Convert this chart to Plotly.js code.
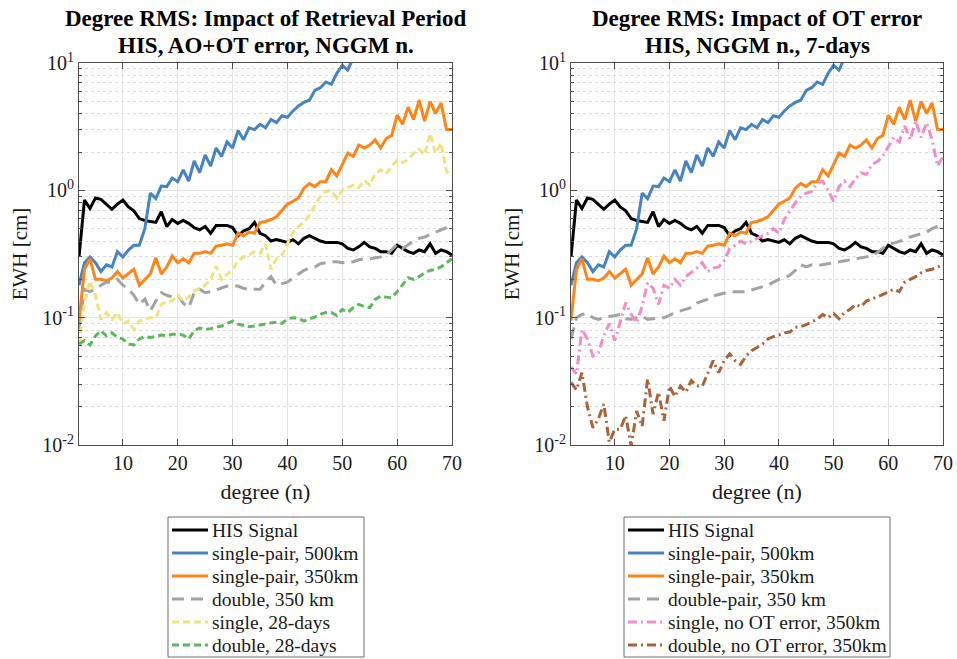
<!DOCTYPE html>
<html>
<head>
<meta charset="utf-8">
<script src="https://cdn.plot.ly/plotly-3.0.1.min.js"></script>
<style>
  html, body { margin: 0; padding: 0; background: #ffffff; }
  #chart { width: 957px; height: 659px; }
</style>
</head>
<body>
<div id="chart"></div>
<script>
// Spherical-harmonic degrees shown on the x axis
const degrees = [2, 3, 4, 5, 6, 7, 8, 9, 10, 11, 12, 13, 14, 15, 16, 17, 18, 19, 20,
  21, 22, 23, 24, 25, 26, 27, 28, 29, 30, 31, 32, 33, 34, 35, 36, 37, 38, 39, 40,
  41, 42, 43, 44, 45, 46, 47, 48, 49, 50, 51, 52, 53, 54, 55, 56, 57, 58, 59, 60,
  61, 62, 63, 64, 65, 66, 67, 68, 69, 70];

// Degree RMS in cm of EWH
const hisSignal = [0.30, 0.84, 0.72, 0.87, 0.85, 0.78, 0.71, 0.78, 0.84, 0.74, 0.69, 0.60, 0.58, 0.57, 0.56, 0.68, 0.52, 0.59, 0.55,
  0.58, 0.55, 0.51, 0.49, 0.52, 0.46, 0.53, 0.53, 0.53, 0.51, 0.44, 0.48, 0.50, 0.56, 0.46, 0.44, 0.40, 0.41, 0.40, 0.39,
  0.41, 0.38, 0.42, 0.44, 0.42, 0.40, 0.39, 0.39, 0.39, 0.38, 0.35, 0.34, 0.36, 0.39, 0.36, 0.35, 0.33, 0.33, 0.32, 0.37,
  0.35, 0.33, 0.32, 0.34, 0.33, 0.38, 0.32, 0.34, 0.33, 0.31];

// single pair at 500 km leaves the plotted range after degree 52
const singlePair500 = [0.18, 0.27, 0.30, 0.27, 0.23, 0.26, 0.25, 0.33, 0.30, 0.34, 0.37, 0.37, 0.50, 0.95, 0.86, 1.08, 1.07, 1.25, 1.17,
  1.45, 1.18, 1.70, 1.38, 1.90, 1.55, 2.15, 1.85, 2.40, 2.15, 2.95, 2.50, 3.10, 3.00, 3.30, 3.10, 3.60, 3.40, 3.85, 3.75,
  4.20, 4.60, 4.90, 5.10, 6.10, 6.40, 7.10, 6.80, 8.30, 9.60, 8.80, 11.0];

const singlePair350 = [0.095, 0.24, 0.29, 0.20, 0.20, 0.195, 0.205, 0.23, 0.205, 0.22, 0.24, 0.18, 0.20, 0.22, 0.295, 0.22, 0.25, 0.305, 0.27,
  0.29, 0.27, 0.32, 0.32, 0.33, 0.32, 0.365, 0.37, 0.38, 0.37, 0.46, 0.44, 0.47, 0.46, 0.56, 0.57, 0.59, 0.62, 0.70, 0.78,
  0.82, 0.87, 1.04, 1.13, 1.07, 1.17, 1.17, 1.45, 1.30, 1.58, 1.96, 1.85, 2.27, 2.15, 2.27, 2.49, 2.15, 2.55, 2.70, 3.90,
  3.30, 4.50, 3.60, 5.10, 3.50, 5.00, 4.00, 4.85, 3.00, 3.00];

// Retrieval period panel
const double350 = [0.081, 0.167, 0.16, 0.167, 0.18, 0.19, 0.19, 0.20, 0.18, 0.167, 0.15, 0.127, 0.14, 0.113, 0.135, 0.157, 0.15, 0.145, 0.15,
  0.13, 0.12, 0.157, 0.167, 0.157, 0.16, 0.165, 0.17, 0.177, 0.177, 0.177, 0.17, 0.167, 0.167, 0.167, 0.19, 0.21, 0.18, 0.185, 0.19,
  0.205, 0.22, 0.235, 0.245, 0.25, 0.265, 0.27, 0.275, 0.275, 0.27, 0.272, 0.275, 0.285, 0.29, 0.29, 0.295, 0.30, 0.31, 0.34, 0.376,
  0.35, 0.376, 0.40, 0.42, 0.43, 0.45, 0.47, 0.49, 0.51, 0.55];

const single28Days = [0.062, 0.13, 0.194, 0.15, 0.097, 0.109, 0.097, 0.11, 0.089, 0.094, 0.081, 0.094, 0.097, 0.10, 0.10, 0.127, 0.135, 0.135, 0.15,
  0.135, 0.145, 0.162, 0.17, 0.18, 0.20, 0.254, 0.20, 0.22, 0.24, 0.28, 0.30, 0.31, 0.33, 0.32, 0.38, 0.24, 0.29, 0.31, 0.38,
  0.47, 0.52, 0.56, 0.64, 0.75, 0.90, 0.98, 1.0, 0.87, 1.0, 1.05, 1.1, 1.05, 1.2, 1.1, 1.35, 1.45, 1.35, 1.55, 1.73,
  1.65, 1.75, 1.95, 2.1, 1.9, 2.8, 1.95, 2.35, 1.4, 1.3];

const double28Days = [0.062, 0.066, 0.061, 0.072, 0.079, 0.072, 0.076, 0.070, 0.068, 0.062, 0.061, 0.068, 0.071, 0.070, 0.071, 0.073, 0.072, 0.074, 0.074,
  0.073, 0.068, 0.079, 0.083, 0.081, 0.082, 0.084, 0.086, 0.090, 0.094, 0.089, 0.087, 0.085, 0.086, 0.088, 0.089, 0.091, 0.092, 0.090, 0.098,
  0.10, 0.099, 0.094, 0.098, 0.101, 0.106, 0.11, 0.11, 0.104, 0.116, 0.11, 0.12, 0.127, 0.122, 0.12, 0.139, 0.148, 0.145, 0.143, 0.16,
  0.18, 0.206, 0.20, 0.21, 0.225, 0.235, 0.24, 0.25, 0.27, 0.29];

// OT error panel
const doublePair350 = [0.068, 0.10, 0.106, 0.108, 0.10, 0.097, 0.10, 0.102, 0.104, 0.106, 0.098, 0.097, 0.10, 0.103, 0.097, 0.098, 0.099, 0.10, 0.104,
  0.11, 0.113, 0.116, 0.12, 0.13, 0.135, 0.14, 0.148, 0.152, 0.157, 0.16, 0.16, 0.16, 0.16, 0.165, 0.17, 0.177, 0.18, 0.19, 0.20,
  0.205, 0.215, 0.235, 0.26, 0.25, 0.26, 0.257, 0.26, 0.265, 0.27, 0.275, 0.28, 0.285, 0.29, 0.295, 0.30, 0.31, 0.325, 0.35, 0.376,
  0.385, 0.395, 0.41, 0.43, 0.445, 0.455, 0.47, 0.50, 0.52, 0.54];

const singleNoOT350 = [0.041, 0.036, 0.081, 0.068, 0.050, 0.053, 0.072, 0.090, 0.066, 0.091, 0.131, 0.106, 0.091, 0.123, 0.188, 0.17, 0.127, 0.18, 0.17,
  0.20, 0.18, 0.21, 0.225, 0.245, 0.27, 0.23, 0.245, 0.25, 0.28, 0.35, 0.37, 0.40, 0.38, 0.40, 0.42, 0.44, 0.46, 0.50, 0.46,
  0.59, 0.68, 0.80, 0.90, 0.95, 0.98, 1.14, 1.18, 1.0, 0.82, 1.07, 1.18, 1.07, 1.24, 1.37, 1.33, 1.60, 1.68, 1.86, 2.2,
  2.6, 2.4, 3.2, 2.5, 3.5, 2.6, 3.4, 2.5, 1.55, 1.85];

const doubleNoOT350 = [0.031, 0.027, 0.037, 0.020, 0.0137, 0.016, 0.021, 0.0105, 0.0133, 0.0133, 0.017, 0.0098, 0.0185, 0.014, 0.033, 0.0175, 0.026, 0.0155, 0.029,
  0.024, 0.029, 0.026, 0.032, 0.029, 0.029, 0.037, 0.046, 0.037, 0.046, 0.052, 0.046, 0.043, 0.050, 0.055, 0.058, 0.062, 0.068, 0.071, 0.073,
  0.076, 0.077, 0.084, 0.085, 0.088, 0.093, 0.097, 0.106, 0.10, 0.108, 0.098, 0.11, 0.116, 0.127, 0.122, 0.135, 0.14, 0.145, 0.152, 0.16,
  0.167, 0.16, 0.19, 0.20, 0.21, 0.225, 0.235, 0.24, 0.25, 0.26];

// Axis tick labels
const xTicks = [10, 20, 30, 40, 50, 60, 70];
const yTicks = [0.01, 0.1, 1, 10];
const yTickText = ['10<sup>-2</sup>', '10<sup>-1</sup>', '10<sup>0</sup>', '10<sup>1</sup>'];

// Panel titles
const leftTitle = ['Degree RMS: Impact of Retrieval Period', 'HIS, AO+OT error, NGGM n.'];
const rightTitle = ['Degree RMS: Impact of OT error', 'HIS, NGGM n., 7-days'];

const SERIF = '"Liberation Serif", "Times New Roman", Times, serif';
const AXIS_COLOR = '#4d4d4d';
const TEXT_COLOR = '#1a1a1a';

const COLORS = {
  black: '#000000',
  blue: '#4584c1',
  orange: '#ff8519',
  gray: '#a3a3a3',
  yellow: '#f2e27c',
  green: '#5cb95a',
  pink: '#f48cc9',
  brown: '#a8633b'
};
const DASH_LONG = '12px,7px';
const DASH_SHORT = '7px,4px';
const DASH_DOT = '9px,4px,2px,4px';

// minor grid positions: 2..9 inside every decade
const minorVals = [];
[0.01, 0.1, 1].forEach(d => { for (let k = 2; k <= 9; k++) minorVals.push(+(k * d).toPrecision(3)); });

function line(name, x, y, color, dash, panel) {
  return {
    type: 'scatter', mode: 'lines', name: name,
    x: x, y: y,
    xaxis: panel === 1 ? 'x' : 'x2', yaxis: panel === 1 ? 'y' : 'y2',
    line: { color: color, width: 3, dash: dash },
    showlegend: false, hoverinfo: 'skip',
    meta: { panel: panel }
  };
}

const degrees500 = degrees.slice(0, singlePair500.length);

const traces = [
  line('HIS Signal', degrees, hisSignal, COLORS.black, 'solid', 1),
  line('single-pair, 500km', degrees500, singlePair500, COLORS.blue, 'solid', 1),
  line('single-pair, 350km', degrees, singlePair350, COLORS.orange, 'solid', 1),
  line('double, 350 km', degrees, double350, COLORS.gray, DASH_LONG, 1),
  line('single, 28-days', degrees, single28Days, COLORS.yellow, DASH_SHORT, 1),
  line('double, 28-days', degrees, double28Days, COLORS.green, DASH_SHORT, 1),

  line('HIS Signal', degrees, hisSignal, COLORS.black, 'solid', 2),
  line('single-pair, 500km', degrees500, singlePair500, COLORS.blue, 'solid', 2),
  line('single-pair, 350km', degrees, singlePair350, COLORS.orange, 'solid', 2),
  line('double-pair, 350 km', degrees, doublePair350, COLORS.gray, DASH_LONG, 2),
  line('single, no OT error, 350km', degrees, singleNoOT350, COLORS.pink, DASH_DOT, 2),
  line('double, no OT error, 350km', degrees, doubleNoOT350, COLORS.brown, DASH_DOT, 2)
];

const W = 957, H = 659;
const px = v => v / W;          // pixel column -> paper x
const py = v => 1 - v / H;      // pixel row -> paper y
const plotTop = 63, plotBottom = 445;
const yDomain = [py(plotBottom), py(plotTop)];
const leftDomain = [px(79), px(452)];
const rightDomain = [px(571), px(943)];

function xAxis(domain, anchor) {
  return {
    domain: domain, anchor: anchor, range: [2, 70],
    tickmode: 'array', tickvals: xTicks,
    ticks: 'inside', ticklen: 6, tickwidth: 1, tickcolor: AXIS_COLOR,
    showline: true, linecolor: AXIS_COLOR, linewidth: 1, mirror: 'ticks',
    showgrid: true, gridcolor: '#e4e4e4', gridwidth: 1, zeroline: false,
    tickfont: { family: SERIF, size: 20, color: TEXT_COLOR },
    title: { text: 'degree (n)', font: { family: SERIF, size: 22, color: TEXT_COLOR }, standoff: 10 },
    automargin: false, fixedrange: true
  };
}

function yAxis(anchor) {
  return {
    domain: yDomain, anchor: anchor, type: 'log', range: [-2, 1],
    tickmode: 'array', tickvals: yTicks, ticktext: yTickText,
    ticks: 'inside', ticklen: 6, tickwidth: 1, tickcolor: AXIS_COLOR,
    showline: true, linecolor: AXIS_COLOR, linewidth: 1, mirror: 'ticks',
    showgrid: true, gridcolor: '#e4e4e4', gridwidth: 1, zeroline: false,
    minor: {
      tickmode: 'array', tickvals: minorVals,
      ticks: 'inside', ticklen: 3, tickcolor: AXIS_COLOR,
      showgrid: true, gridcolor: '#dadada', gridwidth: 1, griddash: 'dot'
    },
    tickfont: { family: SERIF, size: 20, color: TEXT_COLOR },
    title: { text: 'EWH [cm]', font: { family: SERIF, size: 21, color: TEXT_COLOR }, standoff: 8 },
    automargin: false, fixedrange: true
  };
}

const shapes = [];
const annotations = [];

// Panel titles: two bold lines centred over each plot
function addTitle(lines, domain) {
  const xc = (domain[0] + domain[1]) / 2;
  [19, 45].forEach((row, i) => {
    annotations.push({
      xref: 'paper', yref: 'paper', x: xc, y: py(row),
      xanchor: 'center', yanchor: 'middle', showarrow: false,
      text: '<b>' + lines[i] + '</b>',
      font: { family: SERIF, size: 23, color: '#000000' }
    });
  });
}

// Boxed legend below a panel, built from that panel's traces
function addLegend(panel, left, right) {
  const top = 517, bottom = 657, firstRow = 530, rowGap = 23;
  shapes.push({
    type: 'rect', xref: 'paper', yref: 'paper',
    x0: px(left), x1: px(right), y0: py(bottom), y1: py(top),
    line: { color: '#6e6e6e', width: 1 }, fillcolor: '#ffffff', layer: 'above'
  });
  traces.filter(t => t.meta.panel === panel).forEach((t, i) => {
    const yc = firstRow + i * rowGap;
    shapes.push({
      type: 'line', xref: 'paper', yref: 'paper',
      x0: px(left + 4), x1: px(left + 40), y0: py(yc), y1: py(yc),
      line: { color: t.line.color, width: 3, dash: t.line.dash }, layer: 'above'
    });
    annotations.push({
      xref: 'paper', yref: 'paper', x: px(left + 42), y: py(yc),
      xanchor: 'left', yanchor: 'middle', showarrow: false,
      text: t.name,
      font: { family: SERIF, size: 19.5, color: TEXT_COLOR }
    });
  });
}

addTitle(leftTitle, leftDomain);
addTitle(rightTitle, rightDomain);
addLegend(1, 168, 364);
addLegend(2, 624, 890);

const layout = {
  width: W, height: H,
  margin: { l: 0, r: 0, t: 0, b: 0 },
  paper_bgcolor: '#ffffff', plot_bgcolor: '#ffffff',
  showlegend: false, hovermode: false,
  xaxis: xAxis(leftDomain, 'y'),
  yaxis: yAxis('x'),
  xaxis2: xAxis(rightDomain, 'y2'),
  yaxis2: yAxis('x2'),
  shapes: shapes,
  annotations: annotations
};

Plotly.newPlot('chart', traces, layout, { staticPlot: true, displayModeBar: false });
</script>
</body>
</html>
